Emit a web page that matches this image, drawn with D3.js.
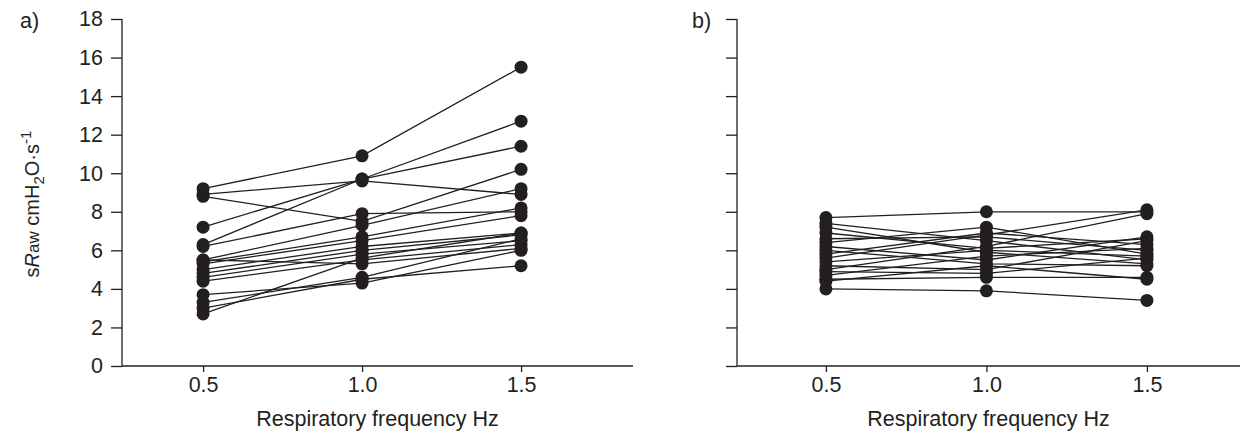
<!DOCTYPE html>
<html>
<head>
<script src="https://d3js.org/d3.v7.min.js"></script>
<style>
body {
  margin: 0;
  background: white;
  font-family: "Liberation Sans", Arial, Helvetica, sans-serif;
}
</style>
</head>
<body>
<div id="chart"></div>
<script>
// frequencies on the x axis
const freqs = [0.5, 1.0, 1.5];
const xTicks = ["0.5", "1.0", "1.5"];
const yTicks = [0, 2, 4, 6, 8, 10, 12, 14, 16, 18];

// panel a) one row per subject: sRaw at 0.5, 1.0, 1.5 Hz
const panelA = [
  [9.2, 10.9, 15.5],
  [6.3, 9.7, 12.7],
  [7.2, 9.7, 11.4],
  [8.9, 9.6, 8.9],
  [8.8, 7.5, 10.2],
  [6.2, 7.9, 8.0],
  [5.5, 7.3, 9.2],
  [5.4, 6.7, 8.2],
  [5.3, 6.5, 7.8],
  [5.0, 6.2, 6.9],
  [4.8, 6.0, 6.8],
  [4.6, 5.8, 6.5],
  [4.4, 5.5, 6.3],
  [5.5, 5.3, 6.1],
  [3.7, 4.3, 6.0],
  [3.3, 4.6, 6.6],
  [3.0, 4.5, 5.2],
  [2.7, 5.6, 6.9]
];

// panel b)
const panelB = [
  [7.7, 8.0, 8.0],
  [4.0, 3.9, 3.4],
  [4.5, 4.6, 4.6],
  [7.4, 6.5, 5.5],
  [7.2, 5.9, 5.3],
  [5.6, 6.8, 8.1],
  [5.0, 6.2, 7.9],
  [6.6, 6.7, 6.0],
  [6.4, 7.2, 5.8],
  [6.2, 5.5, 6.7],
  [6.0, 5.3, 5.2],
  [5.8, 6.9, 6.3],
  [5.4, 6.0, 5.7],
  [5.2, 5.0, 6.5],
  [4.9, 4.8, 5.6],
  [4.7, 5.7, 6.1],
  [4.4, 5.2, 4.5],
  [6.9, 6.1, 6.6]
];

const width = 1255;
const height = 435;
const ink = "#231f20";
const fontSize = "21.5px";

const svg = d3.select("#chart").append("svg")
    .attr("width", width)
    .attr("height", height)
    .attr("viewBox", [0, 0, width, height]);

// y scale is shared by both panels
const y = d3.scaleLinear()
    .domain([0, 18])
    .range([366, 19]);

function drawPanel(data, left, right, domain, label, labelX, showY) {
  const x = d3.scaleLinear()
      .domain(domain)
      .range([left, right]);

  const g = svg.append("g");

  // y axis
  const yAxis = g.append("g")
      .attr("transform", `translate(${left},0)`)
      .call(d3.axisLeft(y).tickValues(yTicks).tickSize(11).tickPadding(8)
        .tickFormat(showY ? d3.format("d") : ""));
  yAxis.select(".domain").attr("stroke", ink).attr("stroke-width", 1.3).attr("d", `M-0,${y(18)}V${y(0)}`);
  yAxis.selectAll(".tick line").attr("stroke", ink).attr("stroke-width", 1.3);
  yAxis.selectAll("text").attr("fill", ink).style("font-size", fontSize).style("font-family", "Liberation Sans, Arial, sans-serif");

  // x axis
  const xAxis = g.append("g")
      .attr("transform", `translate(0,${y(0)})`)
      .call(d3.axisBottom(x).tickValues(freqs).tickSize(6).tickPadding(5)
        .tickFormat((d, i) => xTicks[i]));
  xAxis.select(".domain").attr("stroke", ink).attr("stroke-width", 1.3).attr("d", `M${left},0H${right}`);
  xAxis.selectAll(".tick line").attr("stroke", ink).attr("stroke-width", 1.3);
  xAxis.selectAll("text").attr("fill", ink).style("font-size", fontSize).style("font-family", "Liberation Sans, Arial, sans-serif");

  g.append("text")
      .attr("x", (left + right) / 2)
      .attr("y", 426)
      .attr("text-anchor", "middle")
      .attr("fill", ink)
      .style("font-size", fontSize)
      .text("Respiratory frequency Hz");

  g.append("text")
      .attr("x", labelX)
      .attr("y", 28)
      .attr("fill", ink)
      .style("font-size", fontSize)
      .text(label);

  const line = d3.line()
      .x((d, i) => x(freqs[i]))
      .y(d => y(d));

  g.append("g")
    .selectAll("path")
    .data(data)
    .join("path")
      .attr("d", line)
      .attr("fill", "none")
      .attr("stroke", ink)
      .attr("stroke-width", 1.3);

  g.append("g")
    .selectAll("circle")
    .data(data.flatMap(row => row.map((v, i) => ({f: freqs[i], v}))))
    .join("circle")
      .attr("cx", d => x(d.f))
      .attr("cy", d => y(d.v))
      .attr("r", 6.5)
      .attr("fill", ink);
}

drawPanel(panelA, 122, 633, [0.245, 1.852], "a)", 20, true);
drawPanel(panelB, 737, 1240, [0.223, 1.79], "b)", 692, false);

// y axis title
const title = svg.append("text")
    .attr("transform", "translate(39,204) rotate(-90)")
    .attr("text-anchor", "middle")
    .attr("fill", ink)
    .style("font-size", "20px");
title.append("tspan").text("s");
title.append("tspan").style("font-style", "italic").text("R");
title.append("tspan").style("font-size", "17px").text("aw");
title.append("tspan").text(" cmH");
title.append("tspan").attr("dy", 5).style("font-size", "15px").text("2");
title.append("tspan").attr("dy", -5).text("O·s");
title.append("tspan").attr("dy", -8).style("font-size", "15px").text("-1");
</script>
</body>
</html>
